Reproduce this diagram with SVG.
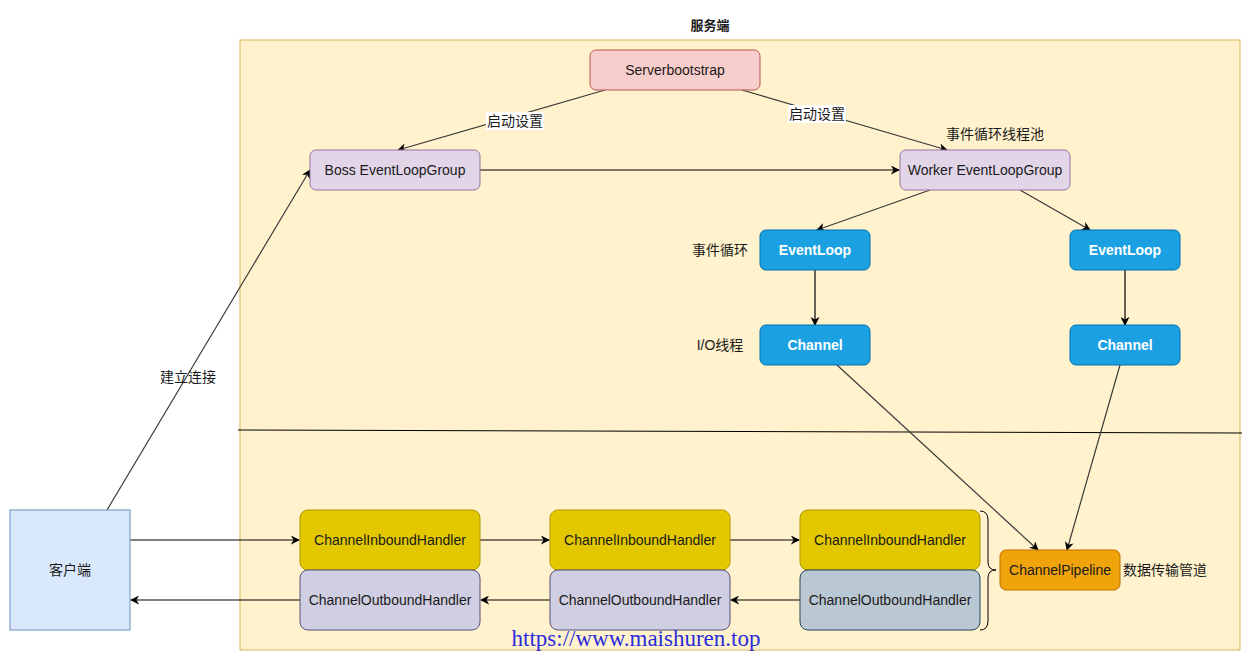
<svg xmlns="http://www.w3.org/2000/svg" width="1253" height="661" viewBox="0 0 1253 661">
<defs>
<style>
text{font-family:"Liberation Sans",Arial,"Noto Sans CJK SC",sans-serif;font-size:14px;fill:#1a1a1a;text-anchor:middle;dominant-baseline:central}
.w{fill:#fff;font-weight:bold}
.e{fill:none;stroke:#000;stroke-width:1.2}
.d{fill:none;stroke:#3a3a3a;stroke-width:1.2}
.blue{fill:#1ba1e2;stroke:#006eaf}
.purp{fill:#e1d5e7;stroke:#9673a6}
.yel{fill:#e3c800;stroke:#b09500}
.lav{fill:#d0cee2;stroke:#56517e}
</style>
<marker id="a" viewBox="0 0 10 10" refX="9" refY="5" markerWidth="9" markerHeight="9" markerUnits="userSpaceOnUse" orient="auto">
<path d="M0,0 L10,5 L0,10 L3,5 z" fill="#000"/>
</marker>
</defs>
<rect width="1253" height="661" fill="#fff"/>
<g id="server-area">
<rect x="240" y="40" width="1000" height="610" fill="#fff2cc" stroke="#d6b656"/>
<text x="710" y="25" style="font-weight:bold;font-size:13px">服务端</text>
<line x1="238" y1="430" x2="1242" y2="433" stroke="#000" stroke-width="1"/>
</g>
<g id="connectors">
<line class="d" x1="605" y1="90" x2="398" y2="150" marker-end="url(#a)"/>
<line class="d" x1="742" y1="90" x2="947" y2="150" marker-end="url(#a)"/>
<line class="e" x1="480" y1="170" x2="899" y2="170" marker-end="url(#a)"/>
<line class="d" x1="930" y1="190" x2="817" y2="230" marker-end="url(#a)"/>
<line class="d" x1="1020" y1="190" x2="1090" y2="230" marker-end="url(#a)"/>
<line class="e" x1="815" y1="270" x2="815" y2="325" marker-end="url(#a)"/>
<line class="e" x1="1125" y1="270" x2="1125" y2="325" marker-end="url(#a)"/>
<line class="d" x1="837" y1="365" x2="1038" y2="550" marker-end="url(#a)"/>
<line class="d" x1="1120" y1="365" x2="1067" y2="550" marker-end="url(#a)"/>
<line class="d" x1="107" y1="510" x2="310" y2="170" marker-end="url(#a)"/>
<line class="e" x1="130" y1="540" x2="299" y2="540" marker-end="url(#a)"/>
<line class="e" x1="480" y1="540" x2="549" y2="540" marker-end="url(#a)"/>
<line class="e" x1="730" y1="540" x2="799" y2="540" marker-end="url(#a)"/>
<line class="e" x1="800" y1="600" x2="731" y2="600" marker-end="url(#a)"/>
<line class="e" x1="550" y1="600" x2="481" y2="600" marker-end="url(#a)"/>
<line class="e" x1="300" y1="600" x2="131" y2="600" marker-end="url(#a)"/>
<path d="M980,511 Q988,511 988,520 L988,562 Q988,570 996,570 Q988,570 988,578 L988,621 Q988,630 980,630" fill="none" stroke="#000" stroke-width="1"/>
<rect x="486" y="112" width="58" height="18" fill="#fff"/>
<text x="515" y="121">启动设置</text>
<rect x="788" y="105" width="58" height="18" fill="#fff"/>
<text x="817" y="114">启动设置</text>
<text x="188" y="377">建立连接</text>
</g>
<g id="serverbootstrap"><rect x="590" y="50" width="170" height="40" rx="6" fill="#f8cecc" stroke="#b85450"/><text x="675" y="70">Serverbootstrap</text></g>
<g id="boss"><rect class="purp" x="310" y="150" width="170" height="40" rx="6"/><text x="395" y="170">Boss EventLoopGroup</text></g>
<g id="worker"><rect class="purp" x="900" y="150" width="170" height="40" rx="6"/><text x="985" y="170">Worker EventLoopGroup</text><text x="995" y="134">事件循环线程池</text></g>
<g id="eventloop1"><rect class="blue" x="760" y="230" width="110" height="40" rx="6"/><text class="w" x="815" y="250">EventLoop</text><text x="720" y="250">事件循环</text></g>
<g id="eventloop2"><rect class="blue" x="1070" y="230" width="110" height="40" rx="6"/><text class="w" x="1125" y="250">EventLoop</text></g>
<g id="channel1"><rect class="blue" x="760" y="325" width="110" height="40" rx="6"/><text class="w" x="815" y="345">Channel</text><text x="720" y="345">I/O线程</text></g>
<g id="channel2"><rect class="blue" x="1070" y="325" width="110" height="40" rx="6"/><text class="w" x="1125" y="345">Channel</text></g>
<g id="client"><rect x="10" y="510" width="120" height="120" fill="#dae8fc" stroke="#6c8ebf"/><text x="70" y="570">客户端</text></g>
<g id="inbound1"><rect class="yel" x="300" y="510" width="180" height="60" rx="8"/><text x="390" y="540">ChannelInboundHandler</text></g>
<g id="inbound2"><rect class="yel" x="550" y="510" width="180" height="60" rx="8"/><text x="640" y="540">ChannelInboundHandler</text></g>
<g id="inbound3"><rect class="yel" x="800" y="510" width="180" height="60" rx="8"/><text x="890" y="540">ChannelInboundHandler</text></g>
<g id="outbound1"><rect class="lav" x="300" y="570" width="180" height="60" rx="8"/><text x="390" y="600">ChannelOutboundHandler</text></g>
<g id="outbound2"><rect class="lav" x="550" y="570" width="180" height="60" rx="8"/><text x="640" y="600">ChannelOutboundHandler</text></g>
<g id="outbound3"><rect x="800" y="570" width="180" height="60" rx="8" fill="#bac8d3" stroke="#23445d"/><text x="890" y="600">ChannelOutboundHandler</text></g>
<g id="pipeline"><rect x="1000" y="550" width="120" height="40" rx="6" fill="#f0a30a" stroke="#bd7000"/><text x="1060" y="570">ChannelPipeline</text><text x="1165" y="570">数据传输管道</text></g>
<text x="636" y="638" style="font-family:'Liberation Serif','Times New Roman',serif;font-size:23px;fill:#2b2bdb">https://www.maishuren.top</text>
</svg>
